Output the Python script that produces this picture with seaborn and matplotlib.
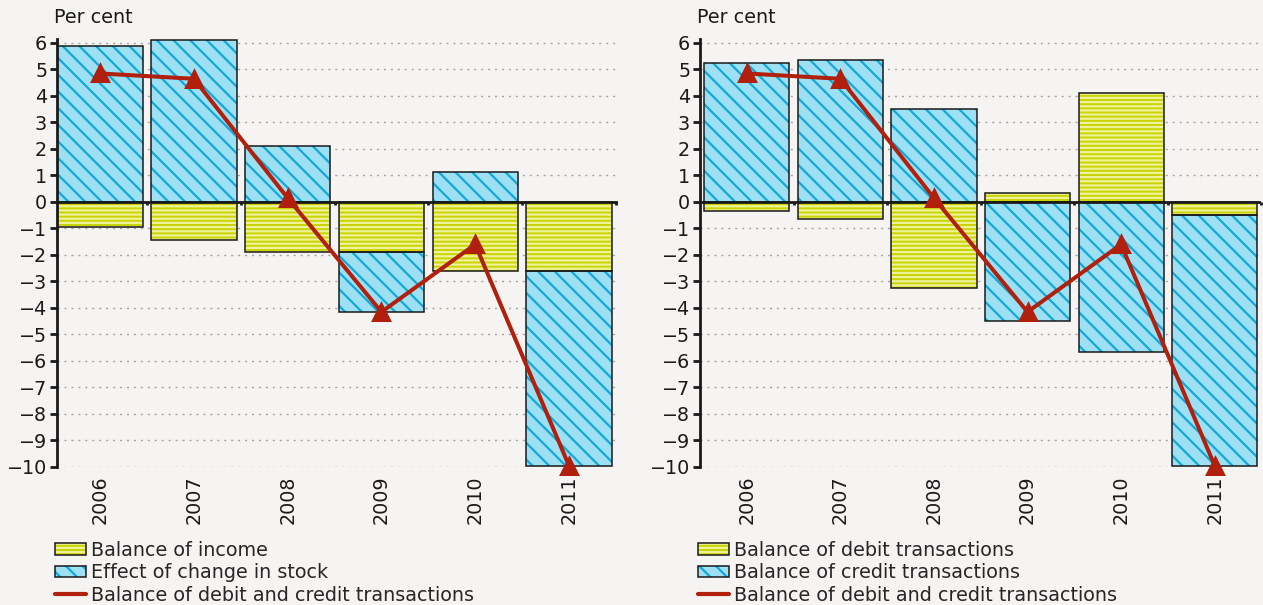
import numpy as np
import seaborn as sns
import matplotlib.pyplot as plt
import matplotlib.patches as mpatches
import matplotlib.lines as mlines
from matplotlib.legend_handler import HandlerTuple

years = ['2006', '2007', '2008', '2009', '2010', '2011']

# left panel
income = [-0.95, -1.45, -1.9, -1.9, -2.6, -2.6]
stock_effect = [5.9, 6.1, 2.1, -2.25, 1.15, -7.35]

# right panel
debit = [-0.35, -0.65, -3.25, 0.35, 4.1, -0.5]
credit = [5.25, 5.35, 3.5, -4.5, -5.65, -9.45]

# line in both panels
net = [4.85, 4.65, 0.15, -4.15, -1.6, -9.95]

yticks = list(range(-10, 7))

BG = '#f5f4f2'
YELLOW, YELLOW_HATCH = '#cad400', '#eef29a'
BLUE, BLUE_HATCH = '#9de0f3', '#12a8d8'
RED = '#b0200c'
FS = 13.8

sns.set_theme(style='white')
plt.rcParams['font.family'] = ['DejaVu Sans']
plt.rcParams['hatch.linewidth'] = 1.6
plt.rcParams['figure.facecolor'] = BG
plt.rcParams['axes.facecolor'] = BG


def stacked_bars(ax, vals, bottom, color, hatch_color, hatch):
    # hatched fill (hatch colour comes from edgecolor) then a dark outline on top
    sns.barplot(x=years, y=vals, bottom=bottom, color=color, saturation=1,
                edgecolor=hatch_color, linewidth=0, hatch=hatch, width=0.91,
                ax=ax, zorder=2)
    sns.barplot(x=years, y=vals, bottom=bottom, color='#1a1a1a', fill=False,
                linewidth=1.1, width=0.91, ax=ax, zorder=3)


def draw_panel(ax, first, second, first_label, second_label, xlim):
    first = np.array(first)
    second = np.array(second)
    # diverging stack: second series sits on the first one only when same sign
    bottom2 = np.where(np.sign(first) == np.sign(second), first, 0)
    stacked_bars(ax, first, np.zeros(len(first)), YELLOW, YELLOW_HATCH, '----')
    stacked_bars(ax, second, bottom2, BLUE, BLUE_HATCH, '\\\\')
    sns.pointplot(x=years, y=net, color=RED, marker='^', markersize=11,
                  linewidth=2.9, errorbar=None, ax=ax, zorder=6)
    for ln in ax.lines:
        ln.set_clip_on(False)

    ax.axhline(0, color='k', lw=2, zorder=4)
    ax.vlines(np.arange(len(years)) + 0.5, -0.13, 0, color='k', lw=2,
              zorder=4, clip_on=False)

    ax.set_xlim(*xlim)
    ax.set_ylim(-10, 6.15)
    ax.set_yticks(yticks)
    ax.set_xticks(range(len(years)))
    ax.set_xticklabels(years, rotation=90)
    ax.set_xlabel('')
    ax.set_ylabel('')
    ax.tick_params(axis='x', length=0, pad=6, labelsize=FS, colors='#1a1a1a')
    ax.tick_params(axis='y', length=5, width=2, pad=2, labelsize=FS,
                   colors='#1a1a1a', left=True)
    ax.tick_params(axis='y', color='k')

    ax.set_axisbelow(True)
    ax.yaxis.grid(True, linestyle=(0, (1.5, 3.5)), color='#a5a5a5', lw=1)
    ax.xaxis.grid(False)
    for side in ['top', 'right', 'bottom']:
        ax.spines[side].set_visible(False)
    ax.spines['left'].set_color('k')
    ax.spines['left'].set_linewidth(2)

    ax.text(-0.005, 1.05, 'Per cent', transform=ax.transAxes, ha='left',
            va='center', fontsize=FS, color='#1a1a1a')

    h_first = (mpatches.Patch(facecolor=YELLOW, edgecolor=YELLOW_HATCH, lw=0, hatch='----'),
               mpatches.Patch(fill=False, edgecolor='#1a1a1a', lw=1.1))
    h_second = (mpatches.Patch(facecolor=BLUE, edgecolor=BLUE_HATCH, lw=0, hatch='\\\\'),
                mpatches.Patch(fill=False, edgecolor='#1a1a1a', lw=1.1))
    h_line = mlines.Line2D([], [], color=RED, lw=3)
    return [h_first, h_second, h_line], [first_label, second_label,
                                         'Balance of debit and credit transactions']


fig = plt.figure(figsize=(12.63, 6.05), dpi=100)
ax1 = fig.add_axes([0.0451, 0.2281, 0.444, 0.7074])
ax2 = fig.add_axes([0.5542, 0.2281, 0.4446, 0.7074])

panels = [
    (ax1, income, stock_effect, 'Balance of income', 'Effect of change in stock', 55,
     (-0.46, 5.52)),
    (ax2, debit, credit, 'Balance of debit transactions', 'Balance of credit transactions', 698,
     (-0.5, 5.5)),
]
for ax, first, second, lab1, lab2, leg_x, xlim in panels:
    handles, labels = draw_panel(ax, first, second, lab1, lab2, xlim)
    fig.legend(handles, labels, loc='upper left',
               bbox_to_anchor=(leg_x / 1263, 1 - 541 / 605),
               frameon=False, borderpad=0, borderaxespad=0, fontsize=FS,
               handlelength=1.6, handleheight=0.55, handletextpad=0.3,
               labelspacing=0.17,
               handler_map={tuple: HandlerTuple(ndivide=1, pad=0)})

fig.savefig('out.png', dpi=100, facecolor=BG)
